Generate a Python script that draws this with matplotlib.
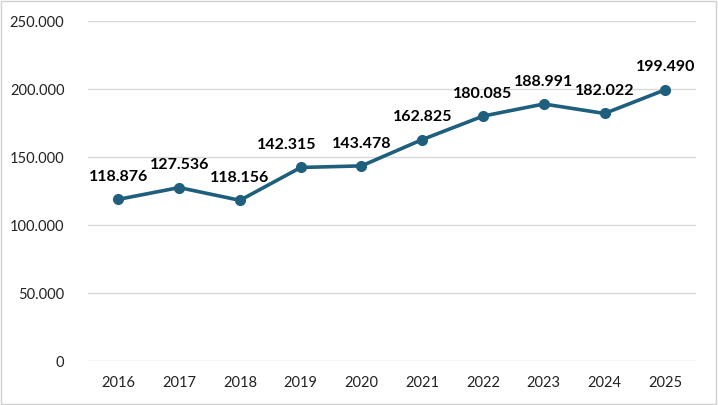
import matplotlib.pyplot as plt
from matplotlib.ticker import FuncFormatter
from matplotlib.patches import Rectangle

anos = ['2016', '2017', '2018', '2019', '2020', '2021', '2022', '2023', '2024', '2025']
valores = [118876, 127536, 118156, 142315, 143478, 162825, 180085, 188991, 182022, 199490]

cor = '#1f5f7e'
# deslocamento horizontal dos rótulos (pontos) - o de 2019 fica puxado p/ esquerda
desloc_x = [0, 0, 0, -10, 0, 0, 0, 0, 0, 0]

def fmt_milhar(v, pos=None):
    return f"{int(v):,}".replace(',', '.')

plt.rcParams['font.family'] = ['Lato', 'DejaVu Sans']

fig = plt.figure(figsize=(7.18, 4.05), dpi=100)
ax = fig.add_axes([0.1226, 0.1086, 0.8464, 0.8395])

x = list(range(len(anos)))
ax.plot(x, valores, color=cor, linewidth=2.6, marker='o', markersize=7, zorder=3)

for xi, v, dx in zip(x, valores, desloc_x):
    ax.annotate(fmt_milhar(v), (xi, v), xytext=(dx, 11), textcoords='offset points',
                ha='center', va='bottom', fontsize=11.5, fontweight='bold', color='black')

ax.set_xlim(-0.5, len(anos) - 0.5)
ax.set_ylim(0, 250000)
ax.set_yticks(range(0, 250001, 50000))
ax.yaxis.set_major_formatter(FuncFormatter(fmt_milhar))
ax.set_xticks(x)
ax.set_xticklabels(anos)
ax.tick_params(axis='both', length=0, labelsize=10.5, colors='#222222')
ax.tick_params(axis='y', pad=17)
ax.tick_params(axis='x', pad=11)
ax.grid(axis='y', color='#d9d9d9', linewidth=1)
ax.set_axisbelow(True)
for s in ax.spines.values():
    s.set_visible(False)

fig.patches.append(Rectangle((0.002, 0.003), 0.995, 0.994, transform=fig.transFigure,
                             fill=False, edgecolor='#d0d0d0', linewidth=1))

fig.savefig('out.png', dpi=100)
